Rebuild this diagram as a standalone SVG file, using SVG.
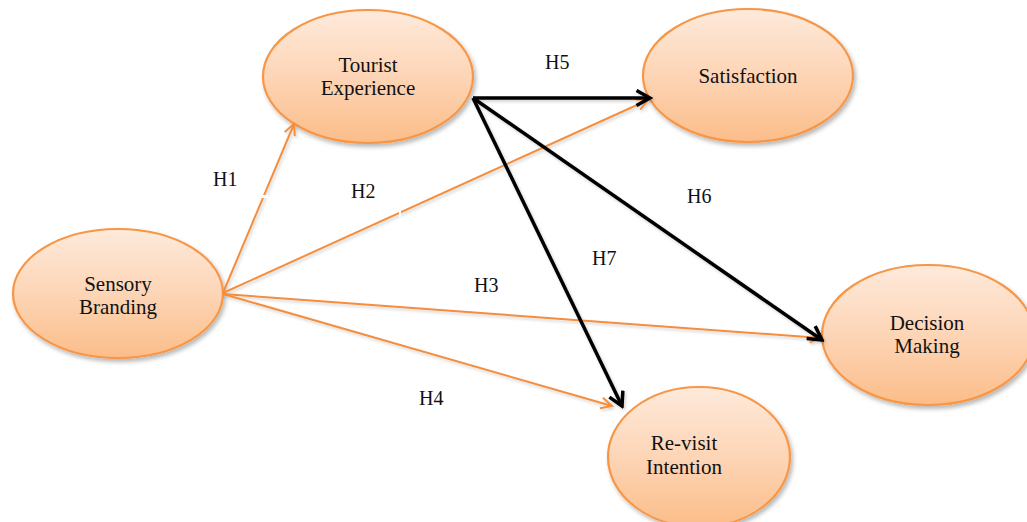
<svg xmlns="http://www.w3.org/2000/svg" width="1027" height="522" viewBox="0 0 1027 522">
  <style>
    .node { fill: url(#nodeFill); stroke: #f79646; stroke-width: 2.2; filter: url(#softShadow); }
    .label { font-size: 21px; fill: #111; text-anchor: middle; }
    .hyp { font-size: 20px; fill: #111; }
    .link-o { stroke: #f68d3c; stroke-width: 2; fill: none; marker-end: url(#headOrange); }
    .link-k { stroke: #000; stroke-width: 3.5; fill: none; marker-end: url(#headBlack); }
  </style>
  <defs>
    <linearGradient id="nodeFill" x1="0" y1="0" x2="0" y2="1">
      <stop offset="0" stop-color="#feeadb"/>
      <stop offset="0.5" stop-color="#fdd5b6"/>
      <stop offset="1" stop-color="#fbbd89"/>
    </linearGradient>
    <filter id="softShadow" x="-20%" y="-20%" width="140%" height="150%">
      <feDropShadow dx="2" dy="3" stdDeviation="2.2" flood-color="#000" flood-opacity="0.28"/>
    </filter>
    <filter id="lineShadow" x="-10%" y="-10%" width="120%" height="120%">
      <feDropShadow dx="1.5" dy="2" stdDeviation="1.5" flood-color="#000" flood-opacity="0.18"/>
    </filter>
    <marker id="headOrange" viewBox="0 0 14 14" refX="12" refY="7" markerWidth="14" markerHeight="14" markerUnits="userSpaceOnUse" orient="auto">
      <path d="M1,1.5 L12,7 L1,12.5" fill="none" stroke="#f68d3c" stroke-width="2"/>
    </marker>
    <marker id="headBlack" viewBox="0 0 18 18" refX="15.5" refY="9" markerWidth="18" markerHeight="18" markerUnits="userSpaceOnUse" orient="auto">
      <path d="M2,1.5 L15.5,9 L2,16.5" fill="none" stroke="#000" stroke-width="3.5"/>
    </marker>
  </defs>

  <rect width="1027" height="522" fill="#fff"/>

  <!-- nodes -->
  <g font-family="'Liberation Serif', 'Times New Roman', serif">
    <g id="node-tourist-experience">
      <ellipse class="node" cx="368" cy="76.5" rx="105" ry="66.5"/>
      <text class="label" x="368" y="72">Tourist</text>
      <text class="label" x="368" y="95">Experience</text>
    </g>
    <g id="node-satisfaction">
      <ellipse class="node" cx="748" cy="75.5" rx="105" ry="66.5"/>
      <text class="label" x="748" y="83">Satisfaction</text>
    </g>
    <g id="node-sensory-branding">
      <ellipse class="node" cx="118" cy="293.5" rx="105" ry="64.5"/>
      <text class="label" x="118" y="291">Sensory</text>
      <text class="label" x="118" y="314">Branding</text>
    </g>
    <g id="node-decision-making">
      <ellipse class="node" cx="928" cy="335" rx="106" ry="70"/>
      <text class="label" x="927" y="330">Decision</text>
      <text class="label" x="927" y="353">Making</text>
    </g>
    <g id="node-revisit-intention">
      <ellipse class="node" cx="699" cy="457" rx="91" ry="70"/>
      <text class="label" x="684" y="450">Re-visit</text>
      <text class="label" x="684" y="474">Intention</text>
    </g>
  </g>

  <!-- connectors -->
  <g id="connectors">
    <g filter="url(#lineShadow)">
      <line id="h1" class="link-o" x1="223" y1="293" x2="294" y2="124"/>
      <line id="h2" class="link-o" x1="223" y1="293" x2="648" y2="100"/>
      <line id="h3" class="link-o" x1="223" y1="294" x2="821" y2="338"/>
      <line id="h4" class="link-o" x1="223" y1="294" x2="612" y2="406"/>
      <line id="h5" class="link-k" x1="473" y1="98" x2="650" y2="98"/>
      <line id="h6" class="link-k" x1="473" y1="98" x2="822" y2="340"/>
      <line id="h7" class="link-k" x1="473" y1="98" x2="622" y2="406"/>
    </g>
    <!-- small breaks where the label boxes overlap the lines -->
    <rect x="259" y="195" width="9" height="3" fill="#fff"/>
    <rect x="399" y="208" width="2" height="9" fill="#fff"/>
  </g>

  <!-- hypothesis labels -->
  <g id="hypothesis-labels" font-family="'Liberation Serif', 'Times New Roman', serif">
    <text class="hyp" x="213" y="186">H1</text>
    <text class="hyp" x="351" y="198">H2</text>
    <text class="hyp" x="474" y="292">H3</text>
    <text class="hyp" x="419" y="405">H4</text>
    <text class="hyp" x="545" y="69">H5</text>
    <text class="hyp" x="687" y="203">H6</text>
    <text class="hyp" x="592" y="265">H7</text>
  </g>
</svg>
